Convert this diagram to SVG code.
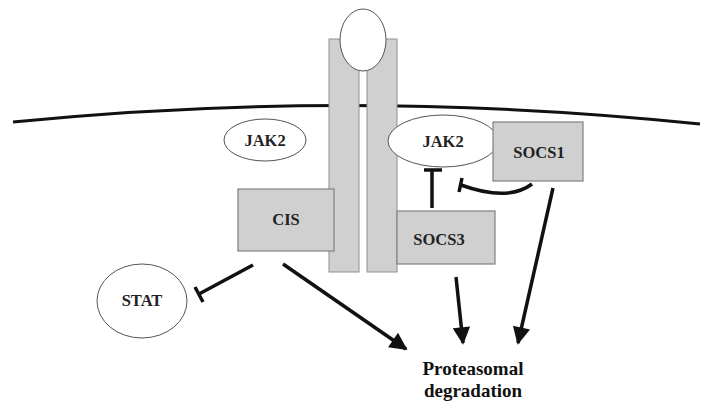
<svg xmlns="http://www.w3.org/2000/svg" width="715" height="402" viewBox="0 0 715 402">
<style>
.box{fill:#d0d0d0;stroke:#808080;stroke-width:1.2}
.bar{fill:#d0d0d0;stroke:#909090;stroke-width:1}
.ell{fill:#fff;stroke:#555;stroke-width:1}
.lbl{font-family:"Liberation Serif","Times New Roman",serif;font-weight:bold;font-size:16.5px;fill:#222;text-anchor:middle}
.big{font-size:19px;fill:#111}
.ln{fill:none;stroke:#111;stroke-width:3.5;stroke-linecap:butt}
</style>
<defs>
<marker id="ah" viewBox="0 0 10 10" refX="9" refY="5" markerWidth="5.5" markerHeight="5" orient="auto" markerUnits="strokeWidth">
<path d="M0,0 L10,5 L0,10 z" fill="#111"/>
</marker>
</defs>
<g id="membrane">
<path d="M13,122 Q350,88 700,124" fill="none" stroke="#111" stroke-width="3"/>
</g>
<g id="receptor">
<rect class="bar" x="329" y="39" width="30" height="233"/>
<rect class="bar" x="367" y="39" width="30" height="233"/>
<ellipse class="ell" cx="363" cy="40" rx="23" ry="31"/>
</g>
<g id="jak2-left">
<ellipse class="ell" cx="265" cy="140" rx="41" ry="21"/>
<text class="lbl" x="265" y="146">JAK2</text>
</g>
<g id="jak2-right">
<ellipse class="ell" cx="443" cy="141" rx="55" ry="26"/>
<text class="lbl" x="443" y="147">JAK2</text>
</g>
<g id="socs1">
<rect class="box" x="493" y="122" width="90" height="59"/>
<text class="lbl" x="539" y="158">SOCS1</text>
</g>
<g id="socs3">
<rect class="box" x="397" y="211" width="98" height="53"/>
<text class="lbl" x="439" y="245">SOCS3</text>
</g>
<g id="cis">
<rect class="box" x="238" y="189" width="96" height="62"/>
<text class="lbl" x="286" y="225">CIS</text>
</g>
<g id="stat">
<ellipse class="ell" cx="142" cy="301" rx="45" ry="37"/>
<text class="lbl" x="142" y="306">STAT</text>
</g>
<g id="proteasomal">
<text class="lbl big" x="473" y="375">Proteasomal</text>
<text class="lbl big" x="473" y="397">degradation</text>
</g>
<g id="connectors">
<path class="ln" d="M432,208 L432,170"/>
<path class="ln" d="M424,170 L442,170" stroke-width="3"/>
<path class="ln" d="M532,184 Q508,202 461,185"/>
<path class="ln" d="M462,178 L459,192" stroke-width="3"/>
<path class="ln" d="M253,265 L199,294"/>
<path class="ln" d="M195,287 L203,302" stroke-width="3"/>
<path class="ln" d="M283,264 L406,349" marker-end="url(#ah)"/>
<path class="ln" d="M456,277 L463,343" marker-end="url(#ah)"/>
<path class="ln" d="M553,188 L518,343" marker-end="url(#ah)"/>
</g>
</svg>
